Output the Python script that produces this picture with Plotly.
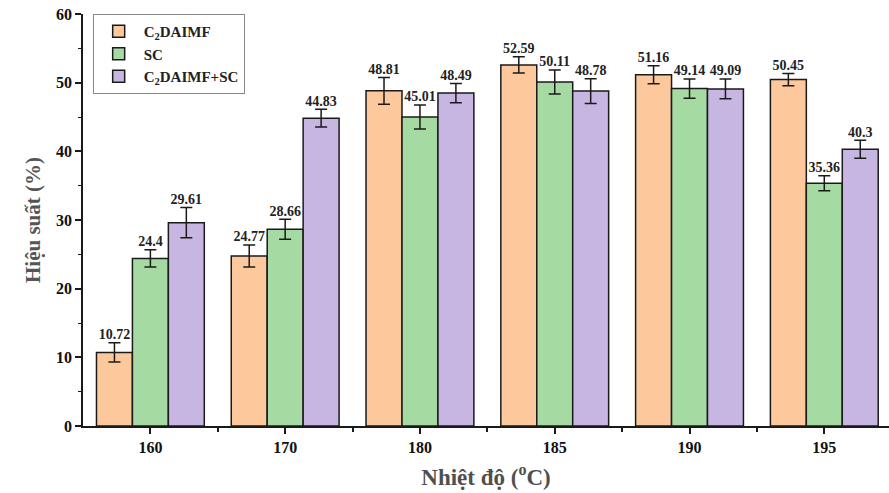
import plotly.graph_objects as go

temps = ["160", "170", "180", "185", "190", "195"]
series_names = ["C<sub>2</sub>DAIMF", "SC", "C<sub>2</sub>DAIMF+SC"]
c2daimf = [10.72, 24.77, 48.81, 52.59, 51.16, 50.45]
sc = [24.4, 28.66, 45.01, 50.11, 49.14, 35.36]
mix = [29.61, 44.83, 48.49, 48.78, 49.09, 40.3]
err_c2daimf = [1.4, 1.6, 1.95, 1.2, 1.3, 0.9]
err_sc = [1.25, 1.45, 1.75, 1.75, 1.4, 1.1]
err_mix = [2.2, 1.3, 1.4, 1.8, 1.45, 1.3]
colors = ["#FCC89C", "#A5DBA2", "#C8B6E2"]

xs = list(range(len(temps)))
font_family = "Liberation Serif, Times New Roman, serif"

fig = go.Figure()
all_vals = [c2daimf, sc, mix]
all_errs = [err_c2daimf, err_sc, err_mix]
for i, (name, vals, errs, col) in enumerate(zip(series_names, all_vals, all_errs, colors)):
    fig.add_trace(go.Bar(
        x=xs, y=vals, name=name, offsetgroup=str(i),
        marker=dict(color=col, line=dict(color="#1a1a1a", width=1.5)),
        error_y=dict(type="data", array=errs, visible=True, color="#1a1a1a",
                     thickness=1.5, width=6),
    ))
for i, (vals, errs) in enumerate(zip(all_vals, all_errs)):
    fig.add_trace(go.Scatter(
        x=xs, y=[v + e for v, e in zip(vals, errs)], mode="text",
        text=[f"{v:g}" for v in vals], textposition="top center",
        textfont=dict(family=font_family, size=14, color="#222222", weight="bold"),
        offsetgroup=str(i), showlegend=False, hoverinfo="skip",
    ))

fig.update_layout(
    width=889, height=493,
    margin=dict(l=83, r=0, t=14, b=67),
    barmode="group", scattermode="group", bargap=0.2, bargroupgap=0,
    plot_bgcolor="white", paper_bgcolor="white",
    font=dict(family=font_family, color="#111111"),
    legend=dict(
        x=0.012, y=1.0, xanchor="left", yanchor="top",
        bgcolor="white", bordercolor="#888888", borderwidth=1,
        font=dict(family=font_family, size=15, color="#222222", weight="bold"),
        tracegroupgap=0, itemwidth=40, entrywidthmode="pixels",
    ),
    xaxis=dict(
        range=[-0.5, 5.48], tickmode="array", tickvals=xs, ticktext=temps,
        showline=True, linecolor="#1a1a1a", linewidth=1.5,
        ticks="outside", ticklen=6, tickwidth=1.5, tickcolor="#1a1a1a",
        minor=dict(tickmode="array", tickvals=[x + 0.5 for x in xs[:-1]],
                   ticks="outside", ticklen=4, tickwidth=1.5, tickcolor="#1a1a1a"),
        tickfont=dict(family=font_family, size=16, color="#111111", weight="bold"),
        title=dict(text="Nhiệt độ (<sup>o</sup>C)", standoff=14,
                   font=dict(family=font_family, size=23, color="#4f4f4f", weight="bold")),
        showgrid=False, zeroline=False,
    ),
    yaxis=dict(
        range=[0, 60], dtick=10, tick0=0,
        showline=True, linecolor="#1a1a1a", linewidth=1.5,
        ticks="outside", ticklen=6, tickwidth=1.5, tickcolor="#1a1a1a",
        minor=dict(dtick=5, ticks="outside", ticklen=3, tickwidth=1.2, tickcolor="#1a1a1a"),
        tickfont=dict(family=font_family, size=16, color="#111111", weight="bold"),
        title=dict(text="Hiệu suất (%)", standoff=10,
                   font=dict(family=font_family, size=21, color="#555555", weight="bold")),
        showgrid=False, zeroline=False,
    ),
)

fig.write_html("out.html")
